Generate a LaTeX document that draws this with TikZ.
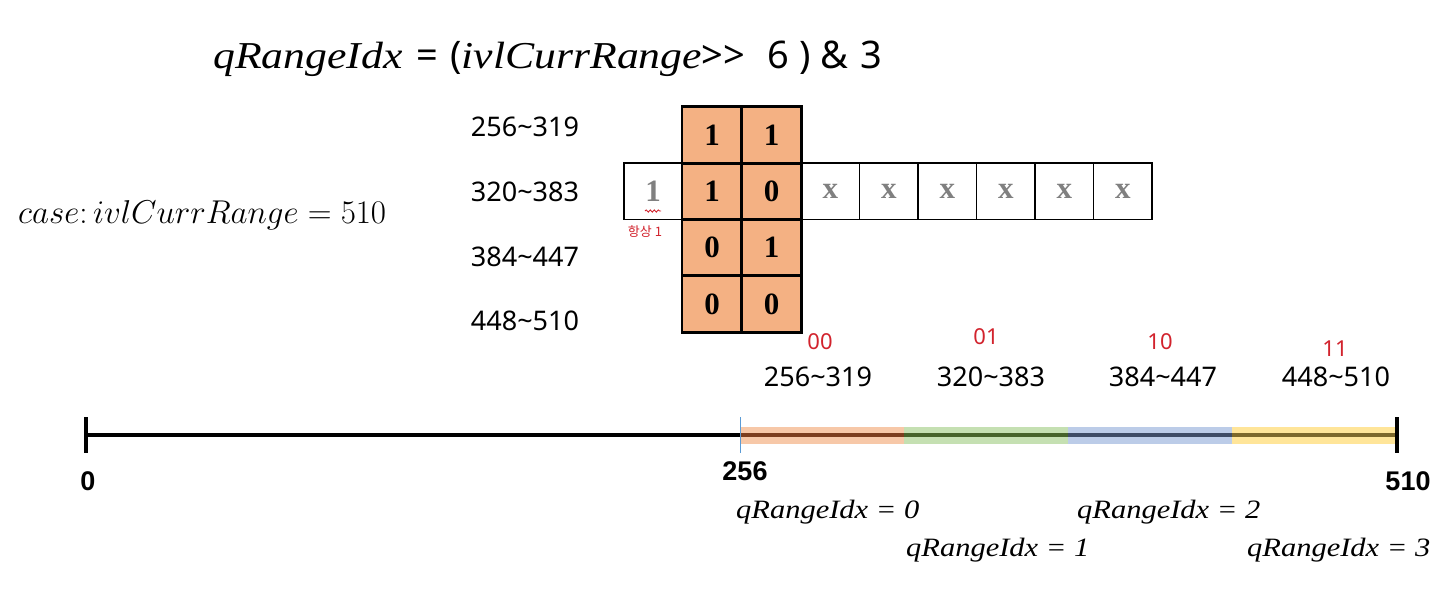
\RequirePackage{fix-cm}
\documentclass[tikz,border=0pt]{standalone}
\usepackage[no-math]{fontspec}
\setmainfont{Noto Sans}
\newfontfamily\itf[FakeStretch=1.15]{Liberation Serif}
\newfontfamily\cellf{Liberation Serif}
\newfontfamily\numf{Liberation Sans}
\newfontfamily\krf{Noto Sans CJK KR}
\usetikzlibrary{decorations.pathmorphing}
\definecolor{cellorange}{RGB}{244,177,131}
\definecolor{lorange}{RGB}{247,200,168}
\definecolor{lgreen}{RGB}{197,224,178}
\definecolor{lblue}{RGB}{188,204,232}
\definecolor{lyellow}{RGB}{255,229,153}
\definecolor{dorange}{RGB}{125,62,30}
\definecolor{dgreen}{RGB}{70,100,42}
\definecolor{dblue}{RGB}{62,76,102}
\definecolor{dyellow}{RGB}{125,104,42}
\definecolor{tickblue}{RGB}{91,155,213}
\definecolor{hand}{RGB}{210,35,45}
\definecolor{xgray}{RGB}{128,128,128}
\tikzset{
  cell/.style={draw=black, line width=1.6pt, inner sep=0pt, minimum width=59pt,
    minimum height=56.3pt, font=\cellf\bfseries\fontsize{31}{31}\selectfont},
  ocell/.style={cell, fill=cellorange},
  wcell/.style={cell, fill=white, text=xgray},
  rangelab/.style={inner sep=0pt, font=\fontsize{27}{27}\selectfont},
  handlab/.style={inner sep=0pt, text=hand, font=\fontsize{22}{22}\selectfont},
  numlab/.style={inner sep=0pt, font=\numf\bfseries\fontsize{27}{27}\selectfont},
  qlab/.style={inner sep=0pt, anchor=west, font=\itf\itshape\fontsize{26.5}{26.5}\selectfont},
  band/.style={line width=17pt},
  core/.style={line width=4.5pt},
  axis/.style={line width=4pt},
}
\begin{document}
\begin{tikzpicture}[x=1pt,y=-1pt]
\useasboundingbox[fill=white] (0,0) rectangle (1440,598);

% title
\node[anchor=base west, inner sep=0pt] (title) at (213,68) {\fontsize{38}{38}\selectfont{\itf\itshape qRangeIdx}\hspace{14pt}=\hspace{12pt}({\itf\itshape ivlCurrRange}{>}{>}\hspace{22pt}6\hspace{10pt})\hspace{10pt}\&\hspace{12pt}3};

% case line
\node[anchor=west, inner sep=0pt] (case) at (18,215) {\fontsize{33}{33}\selectfont $case\colon ivlCurrRange = 510$};

% left range labels
\node[rangelab] (r1) at (525,127) {256\textasciitilde 319};
\node[rangelab] (r2) at (525,192) {320\textasciitilde 383};
\node[rangelab] (r3) at (525,257) {384\textasciitilde 447};
\node[rangelab] (r4) at (525,321) {448\textasciitilde 510};

% orange cells
\node[ocell] (a1) at (712,135.1) {1};
\node[ocell] (b1) at (771.5,135.1) {1};
\node[ocell] (a2) at (712,191.4) {1};
\node[ocell] (b2) at (771.5,191.4) {0};
\node[ocell] (a3) at (712,247.6) {0};
\node[ocell] (b3) at (771.5,247.6) {1};
\node[ocell] (a4) at (712,303.9) {0};
\node[ocell] (b4) at (771.5,303.9) {0};

% middle row white cells
\node[wcell, minimum width=58pt] (lead) at (653,191.4) {1};
\node[wcell, minimum width=58.5pt] (x1) at (830.25,191.4) {x};
\node[wcell, minimum width=58.5pt] (x2) at (888.75,191.4) {x};
\node[wcell, minimum width=58.5pt] (x3) at (947.25,191.4) {x};
\node[wcell, minimum width=58.5pt] (x4) at (1005.75,191.4) {x};
\node[wcell, minimum width=58.5pt] (x5) at (1064.25,191.4) {x};
\node[wcell, minimum width=58.5pt] (x6) at (1122.75,191.4) {x};
% redraw orange borders on top
\foreach \n in {a1,b1,a2,b2,a3,b3,a4,b4} {\draw[line width=1.6pt] (\n.north west) rectangle (\n.south east);}

% red annotation under leading 1
\draw[hand, line width=0.9pt, decorate, decoration={snake, amplitude=1.1pt, segment length=4pt}] (645,211) -- (661,211);
\node[inner sep=0pt, text=hand, font=\krf\fontsize{13}{13}\selectfont] (always) at (645,232) {항상 1};

% red handwritten bit labels
\node[handlab] (h0) at (820,342) {00};
\node[handlab] (h1) at (986,337) {01};
\node[handlab] (h2) at (1160,342) {10};
\node[handlab] (h3) at (1335,349) {11};

% bottom range labels
\node[rangelab] (s1) at (818,377) {256\textasciitilde 319};
\node[rangelab] (s2) at (991,377) {320\textasciitilde 383};
\node[rangelab] (s3) at (1163,377) {384\textasciitilde 447};
\node[rangelab] (s4) at (1336,377) {448\textasciitilde 510};

% number line
\coordinate (p0) at (86,435);
\coordinate (p256) at (740,435);
\coordinate (q1) at (904,435);
\coordinate (q2) at (1068,435);
\coordinate (q3) at (1232,435);
\coordinate (p510) at (1397,435);
\draw[axis] (p0) -- (p256);
\draw[band, lorange] (p256) -- (q1);
\draw[band, lgreen] (q1) -- (q2);
\draw[band, lblue] (q2) -- (q3);
\draw[band, lyellow] (q3) -- (p510);
\draw[core, dorange] (p256) -- (q1);
\draw[core, dgreen] (q1) -- (q2);
\draw[core, dblue] (q2) -- (q3);
\draw[core, dyellow] (q3) -- (p510);
\draw[axis] (86,417) -- (86,453);
\draw[axis] (1397,417) -- (1397,453);
\draw[tickblue, line width=1pt] (740,417) -- (740,453);

\node[numlab] (n0) at (88,481) {0};
\node[numlab] (n256) at (745,471) {256};
\node[numlab] (n510) at (1408,481) {510};

% qRangeIdx labels
\node[qlab] (l0) at (736,512) {qRangeIdx = 0};
\node[qlab] (l1) at (906,550) {qRangeIdx = 1};
\node[qlab] (l2) at (1077,512) {qRangeIdx = 2};
\node[qlab] (l3) at (1247,550) {qRangeIdx = 3};
\end{tikzpicture}
\end{document}
